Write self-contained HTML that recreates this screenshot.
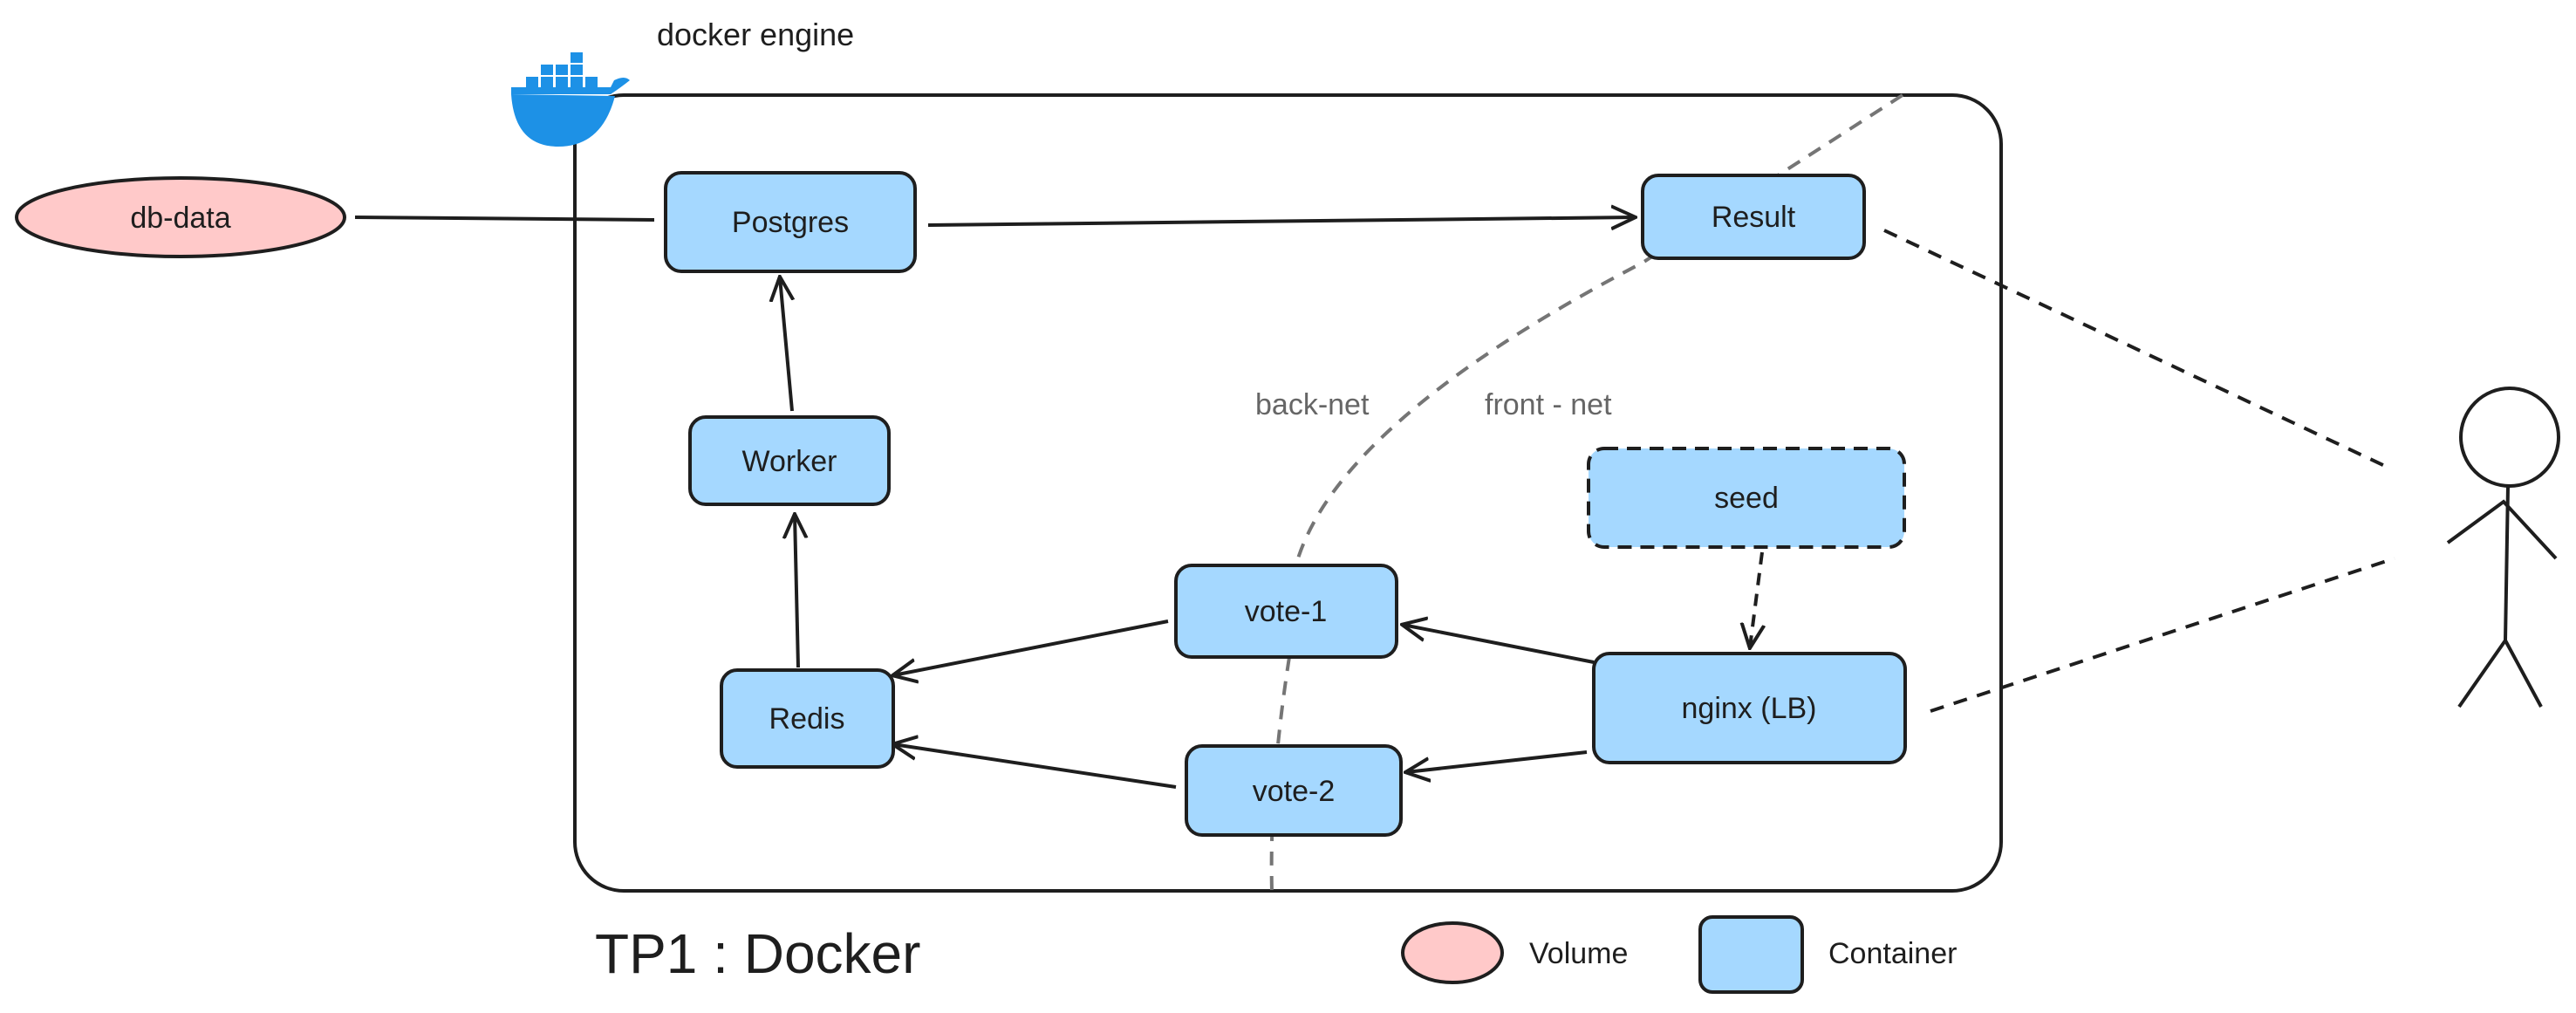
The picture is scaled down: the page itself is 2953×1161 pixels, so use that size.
<!DOCTYPE html>
<html><head><meta charset="utf-8"><style>
html,body{margin:0;padding:0;background:#fff;}
svg{display:block;}
text{font-family:"Liberation Sans",sans-serif;}
</style></head><body>
<svg width="2953" height="1161" viewBox="0 0 2953 1161" xmlns="http://www.w3.org/2000/svg">
<defs>
<marker id="ah" markerWidth="14" markerHeight="14" refX="12" refY="7" orient="auto" markerUnits="userSpaceOnUse">
<path d="M0,0 L13,7 L0,14" fill="none" stroke="#1e1e1e" stroke-width="3.5"/>
</marker>
<marker id="ahb" markerWidth="30" markerHeight="30" refX="27" refY="15" orient="auto" markerUnits="userSpaceOnUse">
<path d="M0,2 L28,15 L0,28" fill="none" stroke="#1e1e1e" stroke-width="4"/>
</marker>
</defs>
<!-- main frame -->
<rect x="659" y="109" width="1635" height="912" rx="56" fill="none" stroke="#1e1e1e" stroke-width="4"/>
<!-- network divider -->
<path d="M2181,109 L1883,301 Q1540,480 1488,640" fill="none" stroke="#757575" stroke-width="4" stroke-dasharray="16,12"/>
<path d="M1478,753 Q1455,900 1458,1021" fill="none" stroke="#757575" stroke-width="4" stroke-dasharray="16,12"/>
<text x="1439" y="475" font-size="34" fill="#666">back-net</text>
<text x="1702" y="475" font-size="34" fill="#666">front - net</text>
<!-- docker -->
<g fill="#1d91e6">
<path d="M586,108 L700,108 Q712,100 722,92 Q716,86 704,92 L700,100 L586,100 Z"/>
<path d="M586,108 Q590,168 640,168 Q690,168 705,110 Z"/>
<rect x="603" y="88" width="14" height="12"/><rect x="620" y="88" width="14" height="12"/><rect x="637" y="88" width="14" height="12"/><rect x="654" y="88" width="14" height="12"/><rect x="671" y="88" width="14" height="12"/>
<rect x="620" y="74" width="14" height="12"/><rect x="637" y="74" width="14" height="12"/><rect x="654" y="74" width="14" height="12"/>
<rect x="654" y="60" width="14" height="12"/>
</g>
<text x="753" y="52" font-size="36" fill="#1e1e1e">docker engine</text>
<!-- db-data -->
<ellipse cx="207" cy="249" rx="188" ry="45" fill="#ffc9c9" stroke="#1e1e1e" stroke-width="4"/>
<text x="207" y="261" font-size="34" text-anchor="middle" fill="#1e1e1e">db-data</text>
<!-- lines -->
<g stroke="#1e1e1e" stroke-width="4" fill="none">
<line x1="407" y1="249" x2="750" y2="252"/>
<line x1="1064" y1="258" x2="1874" y2="249" marker-end="url(#ahb)"/>
<line x1="908" y1="471" x2="894" y2="318" marker-end="url(#ahb)"/>
<line x1="915" y1="765" x2="911" y2="590" marker-end="url(#ahb)"/>
<line x1="1339" y1="712" x2="1024" y2="774" marker-end="url(#ahb)"/>
<line x1="1348" y1="902" x2="1024" y2="853" marker-end="url(#ahb)"/>
<line x1="1827" y1="759" x2="1608" y2="716" marker-end="url(#ahb)"/>
<line x1="1819" y1="862" x2="1612" y2="885" marker-end="url(#ahb)"/>
<line x1="2020" y1="633" x2="2006" y2="742" stroke-dasharray="14,10" marker-end="url(#ahb)"/>
<line x1="2160" y1="264" x2="2736" y2="535" stroke-dasharray="16,12"/>
<line x1="2213" y1="815" x2="2745" y2="640" stroke-dasharray="16,12"/>
</g>
<!-- nodes -->
<g fill="#a5d8ff" stroke="#1e1e1e" stroke-width="4">
<rect x="763" y="198" width="286" height="113" rx="18"/>
<rect x="1883" y="201" width="254" height="95" rx="18"/>
<rect x="791" y="478" width="228" height="100" rx="18"/>
<rect x="827" y="768" width="197" height="111" rx="18"/>
<rect x="1348" y="648" width="253" height="105" rx="18"/>
<rect x="1360" y="855" width="246" height="102" rx="18"/>
<rect x="1821" y="514" width="362" height="113" rx="18" stroke-dasharray="16,10"/>
<rect x="1827" y="749" width="357" height="125" rx="18"/>
</g>
<g font-size="34" text-anchor="middle" fill="#1e1e1e">
<text x="906" y="266">Postgres</text>
<text x="2010" y="260">Result</text>
<text x="905" y="540">Worker</text>
<text x="925" y="835">Redis</text>
<text x="1474" y="712">vote-1</text>
<text x="1483" y="918">vote-2</text>
<text x="2002" y="582">seed</text>
<text x="2005" y="823">nginx (LB)</text>
</g>
<!-- stick figure -->
<g stroke="#1e1e1e" stroke-width="4" fill="none">
<circle cx="2877" cy="501" r="56"/>
<line x1="2875" y1="557" x2="2872" y2="734"/>
<path d="M2806,622 L2870,575 L2930,640"/>
<line x1="2872" y1="734" x2="2819" y2="810"/>
<line x1="2872" y1="734" x2="2913" y2="810"/>
</g>
<!-- title + legend -->
<text x="682" y="1115" font-size="64" fill="#1e1e1e">TP1 : Docker</text>
<ellipse cx="1665" cy="1092" rx="57" ry="34" fill="#ffc9c9" stroke="#1e1e1e" stroke-width="4"/>
<text x="1753" y="1104" font-size="34" fill="#1e1e1e">Volume</text>
<rect x="1949" y="1051" width="117" height="86" rx="14" fill="#a5d8ff" stroke="#1e1e1e" stroke-width="4"/>
<text x="2096" y="1104" font-size="34" fill="#1e1e1e">Container</text>
</svg>
</body></html>
